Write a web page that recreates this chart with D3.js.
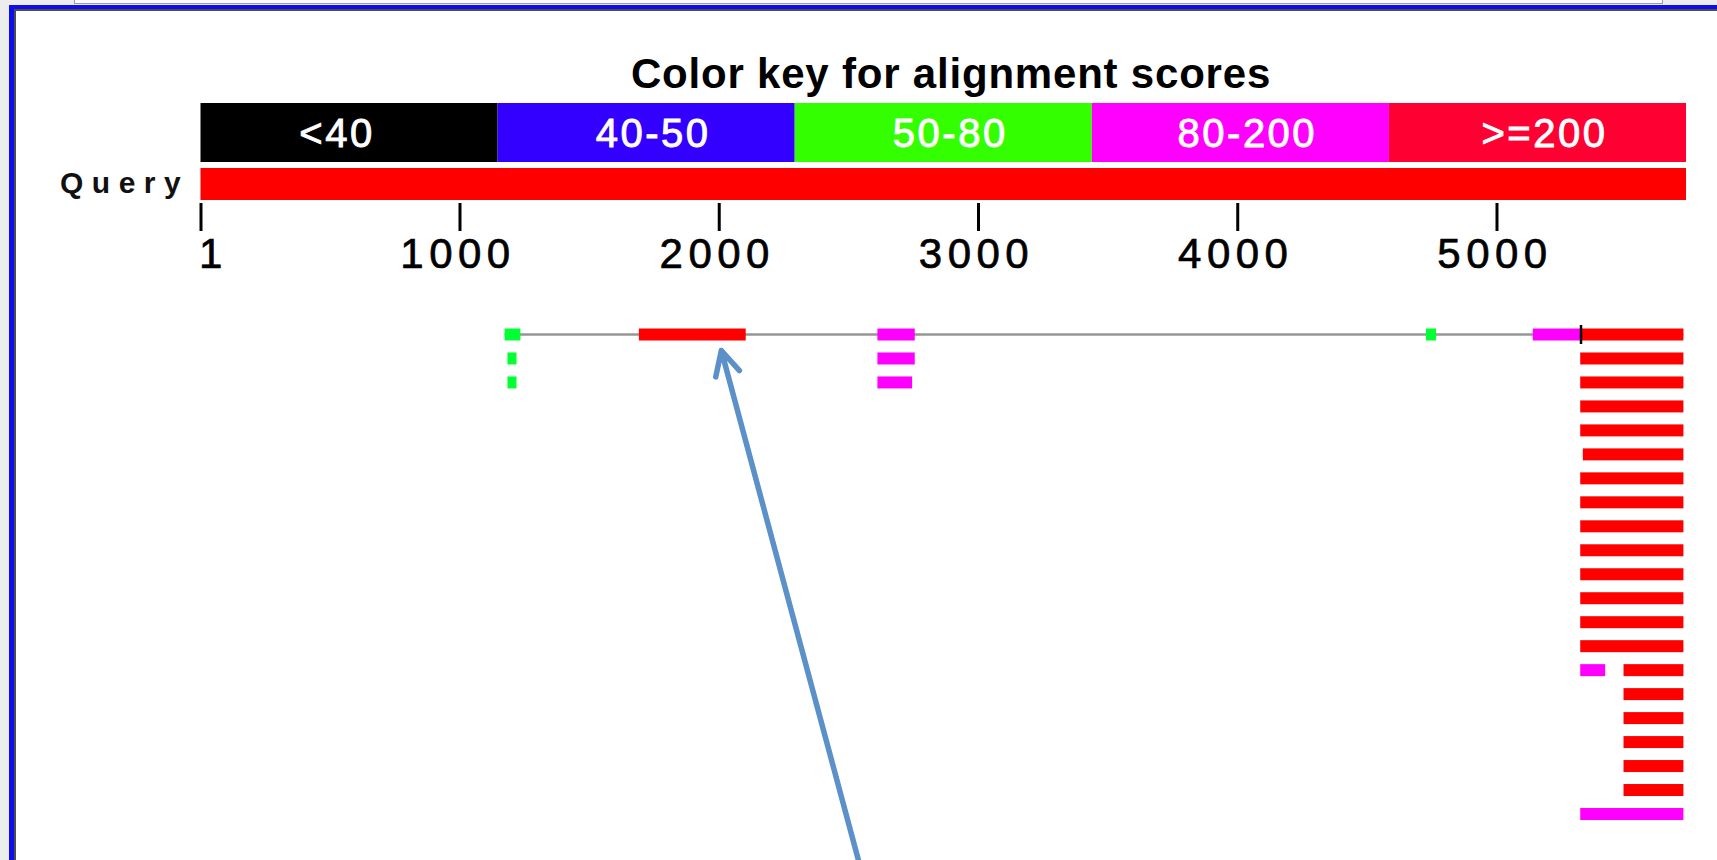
<!DOCTYPE html>
<html>
<head>
<meta charset="utf-8">
<script src="https://cdn.jsdelivr.net/npm/d3@7"></script>
<style>
  html, body { margin: 0; padding: 0; background: #ededed; overflow: hidden; }
  svg { display: block; }
  text { font-family: "Liberation Sans", Arial, Helvetica, sans-serif; }
</style>
</head>
<body>
<svg id="chart" width="1717" height="860"></svg>
<script>
// ---- data ---------------------------------------------------------------
const queryLength = 5731;
const queryTicks  = [1, 1000, 2000, 3000, 4000, 5000];
const scoreBins   = ["<40", "40-50", "50-80", "80-200", ">=200"];

// one entry per HSP: subject row, query start, query end, score bin index
const hspRow  = [0, 0, 0, 0, 0, 0,
                 1, 1, 1,
                 2, 2, 2,
                 3, 4, 5, 6, 7, 8, 9, 10, 11, 12, 13,
                 14, 14,
                 15, 16, 17, 18, 19,
                 20];
const hspFrom = [1174, 1692, 2612, 4728, 5140, 5327,
                 1185, 2612, 5323,
                 1185, 2612, 5323,
                 5323, 5323, 5333, 5323, 5323, 5323, 5323, 5323, 5323, 5323, 5323,
                 5323, 5490,
                 5490, 5490, 5490, 5490, 5490,
                 5323];
const hspTo   = [1235, 2104, 2756, 4767, 5325, 5721,
                 1220, 2756, 5721,
                 1220, 2746, 5721,
                 5721, 5721, 5721, 5721, 5721, 5721, 5721, 5721, 5721, 5721, 5721,
                 5419, 5721,
                 5721, 5721, 5721, 5721, 5721,
                 5721];
const hspBin  = [2, 4, 3, 2, 3, 4,
                 2, 3, 4,
                 2, 3, 4,
                 4, 4, 4, 4, 4, 4, 4, 4, 4, 4, 4,
                 3, 4,
                 4, 4, 4, 4, 4,
                 3];

// subjects whose HSPs are joined by a connector line
const linkedRows = [0];
// boundaries between adjacent HSPs on the same subject
const joinRow = [0];
const joinPos = [5326];

// pointer annotation: query position and subject row it points at
const pointerPos = 2010;
const pointerRow = 0;

const rowCount = 21;

// ---- drawing ------------------------------------------------------------
const svg = d3.select("#chart");
const W = 1717, H = 860;

// window chrome / framed panel
svg.append("rect").attr("x", 0).attr("y", 0).attr("width", W).attr("height", H).attr("fill", "#ededed");
svg.append("rect").attr("x", 74.5).attr("y", -4).attr("width", 1588).attr("height", 7.5)
  .attr("fill", "#fbfbfb").attr("stroke", "#9c9c9c").attr("stroke-width", 1);
svg.append("rect").attr("x", 9).attr("y", 5).attr("width", W).attr("height", H).attr("fill", "#0d0df0");
svg.append("rect").attr("x", 14).attr("y", 9).attr("width", W).attr("height", H).attr("fill", "#4d4d4d");
svg.append("rect").attr("x", 16).attr("y", 11).attr("width", W).attr("height", H).attr("fill", "#ffffff");

const x = d3.scaleLinear().domain([1, queryLength]).range([200.5, 1686]);

// colour key
const keyColors = ["#000000", "#3300ff", "#33ff00", "#ff00ff", "#ff0033"];
const hitColors = ["#000000", "#0000ff", "#00ff33", "#ff00ff", "#ff0000"];
const keyBand = d3.scaleBand().domain(scoreBins).range(x.range());
const keyColor = d3.scaleOrdinal().domain(scoreBins).range(keyColors);

svg.append("text")
  .attr("x", 951).attr("y", 88)
  .attr("text-anchor", "middle")
  .attr("font-size", 42).attr("font-weight", "bold")
  .attr("letter-spacing", 0.8)
  .attr("fill", "#000")
  .text("Color key for alignment scores");

const keyTop = 103, keyH = 59;
const key = svg.append("g");
key.selectAll("rect").data(scoreBins).join("rect")
  .attr("x", d => keyBand(d)).attr("y", keyTop)
  .attr("width", keyBand.bandwidth()).attr("height", keyH)
  .attr("fill", d => keyColor(d));
key.selectAll("text").data(scoreBins).join("text")
  .attr("x", (d, i) => keyBand(d) + keyBand.bandwidth() / 2 + (i === 0 ? -12 : 7))
  .attr("y", keyTop + keyH / 2 + 14.5)
  .attr("text-anchor", "middle")
  .attr("font-size", 40)
  .attr("letter-spacing", 2.5)
  .attr("fill", "#fff")
  .attr("stroke", "#fff").attr("stroke-width", 0.9)
  .text(d => d);

// query bar
svg.append("rect")
  .attr("x", x(1)).attr("y", 168)
  .attr("width", x(queryLength) - x(1)).attr("height", 32)
  .attr("fill", "#ff0000");
svg.append("text")
  .attr("x", 60).attr("y", 193)
  .attr("font-size", 30).attr("font-weight", "bold")
  .attr("letter-spacing", 8.5)
  .attr("fill", "#111")
  .text("Query");

// query coordinate axis
const axis = d3.axisBottom(x).tickValues(queryTicks).tickSize(28).tickPadding(0).tickFormat(d3.format("d"));
const gAxis = svg.append("g").attr("transform", "translate(0,203)").call(axis);
gAxis.select(".domain").remove();
gAxis.selectAll(".tick line").attr("stroke", "#000").attr("stroke-width", 3);
gAxis.selectAll(".tick text")
  .attr("y", 65).attr("dy", 0)
  .attr("font-size", 42)
  .attr("letter-spacing", 5.5)
  .attr("fill", "#000")
  .attr("stroke", "#000").attr("stroke-width", 0.7)
  .attr("font-family", "\"Liberation Sans\", Arial, sans-serif")
  .attr("text-anchor", d => d === 1 ? "start" : "middle")
  .attr("dx", d => d === 1 ? -2 : -2);

// alignment rows
const y = d3.scaleLinear().domain([0, rowCount - 1]).range([334.5, 814]);
const barH = 12;

const hits = svg.append("g");
hits.selectAll("line.link").data(linkedRows).join("line")
  .attr("class", "link")
  .attr("x1", r => x(d3.min(hspFrom.filter((_, i) => hspRow[i] === r))))
  .attr("x2", r => x(d3.max(hspTo.filter((_, i) => hspRow[i] === r))))
  .attr("y1", r => y(r)).attr("y2", r => y(r))
  .attr("stroke", "#969696").attr("stroke-width", 2.5);

hits.selectAll("rect").data(d3.range(hspRow.length)).join("rect")
  .attr("x", i => x(hspFrom[i]))
  .attr("y", i => y(hspRow[i]) - barH / 2)
  .attr("width", i => x(hspTo[i]) - x(hspFrom[i]))
  .attr("height", barH)
  .attr("fill", i => hitColors[hspBin[i]]);

hits.selectAll("line.join").data(d3.range(joinPos.length)).join("line")
  .attr("class", "join")
  .attr("x1", i => x(joinPos[i])).attr("x2", i => x(joinPos[i]))
  .attr("y1", i => y(joinRow[i]) - 9.5).attr("y2", i => y(joinRow[i]) + 9.5)
  .attr("stroke", "#000").attr("stroke-width", 2.5);

// pointer arrow
const tipX = x(pointerPos), tipY = y(pointerRow) + 16;
const dir = [0.2598, 0.9657];
const rot = (v, a) => [v[0] * Math.cos(a) - v[1] * Math.sin(a), v[0] * Math.sin(a) + v[1] * Math.cos(a)];
const wing = 27, ang = 27 * Math.PI / 180;
const wL = rot(dir, ang), wR = rot(dir, -ang);
const tail = (H + 20 - tipY) / dir[1];
const arrow = d3.path();
arrow.moveTo(tipX + wL[0] * wing, tipY + wL[1] * wing);
arrow.lineTo(tipX, tipY);
arrow.lineTo(tipX + wR[0] * wing, tipY + wR[1] * wing);
arrow.moveTo(tipX, tipY);
arrow.lineTo(tipX + dir[0] * tail, tipY + dir[1] * tail);
svg.append("path")
  .attr("d", arrow.toString())
  .attr("fill", "none")
  .attr("stroke", "#5b90c8")
  .attr("stroke-width", 5.5)
  .attr("stroke-linecap", "round")
  .attr("stroke-linejoin", "round");
</script>
</body>
</html>
